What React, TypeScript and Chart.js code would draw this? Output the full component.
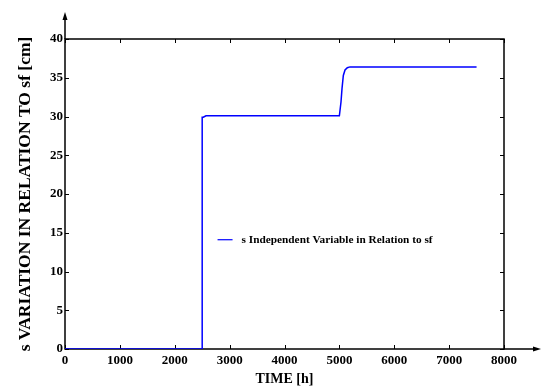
import React, { useEffect, useRef } from "react";
import { Chart, registerables } from "chart.js";

Chart.register(...registerables);

// ---- data ----
const timeH = [0, 2500, 2500, 2520, 2570, 3000, 4000, 5000, 5030, 5048, 5072, 5103, 5145, 5194, 5300, 6000, 7000, 7500];
const sCm = [0, 0, 29.9, 29.9, 30.1, 30.1, 30.1, 30.1, 31.9, 33.6, 35.3, 36.0, 36.3, 36.4, 36.4, 36.4, 36.4, 36.4];
const xTickValues = [0, 1000, 2000, 3000, 4000, 5000, 6000, 7000, 8000];
const yTickValues = [0, 5, 10, 15, 20, 25, 30, 35, 40];
const seriesLabel = "s Independent Variable in Relation to sf";
const xTitle = "TIME [h]";
const yTitle = "s VARIATION IN RELATION TO sf [cm]";

const SERIF = "'Liberation Serif', 'Times New Roman', serif";
const LINE_COLOR = "#0000ff";

const framePlugin = {
  id: "frame",
  beforeDatasetsDraw(chart: any) {
    const { ctx, chartArea } = chart;
    const { left, right, top, bottom } = chartArea;
    const xs = chart.scales.x;
    const ys = chart.scales.y;
    ctx.save();
    ctx.strokeStyle = "#000";
    ctx.fillStyle = "#000";
    ctx.lineWidth = 1.5;
    ctx.strokeRect(left, top, right - left, bottom - top);
    // inward ticks
    ctx.lineWidth = 1;
    ctx.beginPath();
    xs.ticks.forEach((t: any) => {
      const px = Math.round(xs.getPixelForValue(t.value)) + 0.5;
      ctx.moveTo(px, bottom);
      ctx.lineTo(px, bottom - 4);
      ctx.moveTo(px, top);
      ctx.lineTo(px, top + 4);
    });
    ys.ticks.forEach((t: any) => {
      const py = Math.round(ys.getPixelForValue(t.value)) + 0.5;
      ctx.moveTo(left, py);
      ctx.lineTo(left + 4, py);
      ctx.moveTo(right, py);
      ctx.lineTo(right - 4, py);
    });
    ctx.stroke();
    // axis extensions with arrows
    ctx.lineWidth = 1.5;
    ctx.beginPath();
    ctx.moveTo(left, top);
    ctx.lineTo(left, top - 22);
    ctx.moveTo(right, bottom);
    ctx.lineTo(right + 30, bottom);
    ctx.stroke();
    ctx.beginPath();
    ctx.moveTo(left, top - 27);
    ctx.lineTo(left - 2.5, top - 19);
    ctx.lineTo(left + 2.5, top - 19);
    ctx.closePath();
    ctx.fill();
    ctx.beginPath();
    ctx.moveTo(right + 37, bottom);
    ctx.lineTo(right + 29, bottom - 2.5);
    ctx.lineTo(right + 29, bottom + 2.5);
    ctx.closePath();
    ctx.fill();
    ctx.restore();
  },
  afterDatasetsDraw(chart: any) {
    const { ctx } = chart;
    const ds = chart.data.datasets[0];
    const xs = chart.scales.x;
    const ys = chart.scales.y;
    // legend placed inside the plot (anchored to data coordinates)
    const lx = xs.getPixelForValue(2780);
    const ly = ys.getPixelForValue(14.1);
    ctx.save();
    ctx.strokeStyle = ds.borderColor;
    ctx.lineWidth = 1.2;
    ctx.beginPath();
    ctx.moveTo(lx, ly);
    ctx.lineTo(lx + 15, ly);
    ctx.stroke();
    ctx.fillStyle = "#000";
    ctx.font = `bold 11.3px ${SERIF}`;
    ctx.textBaseline = "middle";
    ctx.textAlign = "left";
    ctx.fillText(ds.label, lx + 24, ly);
    ctx.restore();
  },
};

export default function App() {
  const ref = useRef<HTMLCanvasElement | null>(null);
  useEffect(() => {
    if (!ref.current) return;
    const chart = new Chart(ref.current, {
      type: "line",
      data: {
        datasets: [
          {
            label: seriesLabel,
            data: timeH.map((t, i) => ({ x: t, y: sCm[i] })),
            borderColor: LINE_COLOR,
            backgroundColor: LINE_COLOR,
            borderWidth: 1.5,
            pointRadius: 0,
            tension: 0,
            fill: false,
          },
        ],
      },
      options: {
        responsive: false,
        animation: false,
        layout: { padding: { left: 0, right: 44, top: 39, bottom: 0 } },
        plugins: {
          legend: { display: false },
          tooltip: { enabled: false },
        },
        scales: {
          x: {
            type: "linear",
            min: 0,
            max: 8000,
            afterFit: (s: any) => {
              s.height = 40;
            },
            afterBuildTicks: (s: any) => {
              s.ticks = xTickValues.map((v) => ({ value: v }));
            },
            grid: { display: false, drawTicks: false },
            border: { display: false },
            ticks: {
              color: "#000",
              padding: 4,
              maxRotation: 0,
              callback: (v: any) => String(v),
              font: { family: SERIF, size: 13, weight: "bold" },
            },
            title: {
              display: true,
              text: xTitle,
              color: "#000",
              padding: { top: 0, bottom: 1 },
              font: { family: SERIF, size: 14, weight: "bold" },
            },
          },
          y: {
            type: "linear",
            min: 0,
            max: 40,
            afterFit: (s: any) => {
              s.width = 65;
            },
            afterBuildTicks: (s: any) => {
              s.ticks = yTickValues.map((v) => ({ value: v }));
            },
            grid: { display: false, drawTicks: false },
            border: { display: false },
            ticks: {
              color: "#000",
              padding: 2,
              callback: (v: any) => String(v),
              font: { family: SERIF, size: 13, weight: "bold" },
            },
            title: {
              display: true,
              text: yTitle,
              color: "#000",
              padding: { top: 15, bottom: 0 },
              font: { family: SERIF, size: 17.5, weight: "bold" },
            },
          },
        },
      },
      plugins: [framePlugin],
    });
    return () => chart.destroy();
  }, []);
  return (
    <div style={{ position: "absolute", left: 0, top: 0, width: 548, height: 389, background: "#fff" }}>
      <canvas ref={ref} width={548} height={389} style={{ display: "block" }} />
    </div>
  );
}
